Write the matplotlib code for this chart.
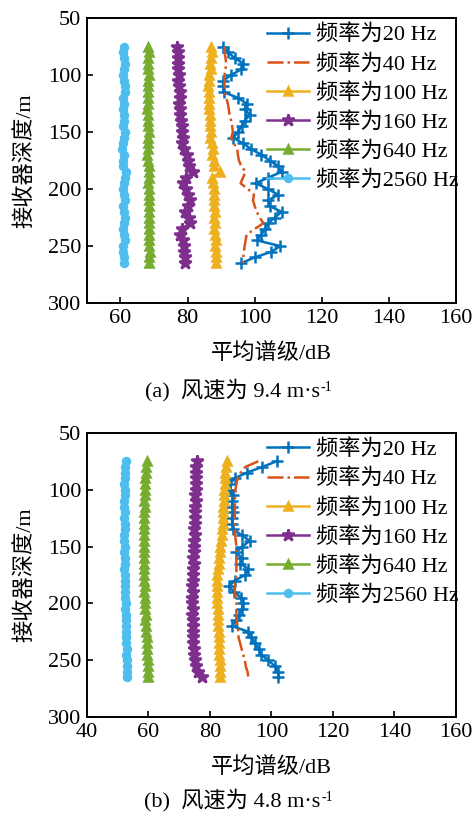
import numpy as np
import matplotlib
matplotlib.use("Agg")
import matplotlib.pyplot as plt

plt.rcParams['font.family'] = ['Liberation Serif', 'Noto Sans CJK SC', 'DejaVu Sans']
plt.rcParams['font.size'] = 16

# receiver depth (m)
depth = [75, 80, 85, 90, 95, 100, 105, 110, 115, 120,
         125, 130, 135, 140, 145, 150, 155, 160, 165, 170,
         175, 180, 185, 190, 195, 200, 205, 210, 215, 220,
         225, 230, 235, 240, 245, 250, 255, 260, 265]

labels = ['频率为20 Hz', '频率为40 Hz', '频率为100 Hz',
          '频率为160 Hz', '频率为640 Hz', '频率为2560 Hz']

# (a) wind 9.4 m/s
a20 = [90.6, 92, 94, 96.6, 96, 93, 90.6, 90.6, 90.8, 95,
       97.6, 97, 98.6, 97, 96.1, 95, 93.6, 96.5, 99, 102,
       104.5, 107, 108, 104, 100.3, 104, 107, 104, 104.5, 108,
       106, 104, 103, 102, 100.6, 107.6, 105, 100, 96]
a40 = [91, 91, 91.3, 91.5, 91.3, 91, 91, 91, 91.2, 91.5,
       92, 92.3, 92.5, 93, 93.3, 93.5, 93, 93.8, 94.8, 95,
       95.3, 96, 97.3, 96.5, 95.8, 98, 99.8, 99.5, 100, 100.6,
       101.5, 102.6, 100, 97.6, 97.3, 97, 96.8, 96.6, 96.5]
a100 = [87, 87.2, 87, 86.8, 87, 86.5, 86.3, 86, 86.3, 86.5,
        86.4, 86.5, 86.6, 86.8, 86.7, 86.9, 86.8, 87.2, 87.5, 87.3,
        87.8, 88.0, 89.7, 87.2, 87.6, 87.8, 87.9, 88.0, 87.9, 88.1,
        88.0, 88.2, 88.0, 88.3, 88.4, 88.3, 88.5, 88.6, 88.6]
a160 = [76.8, 77, 77.2, 77.2, 77, 77.3, 77.2, 77.5, 77.6, 77.8,
        77.5, 77.8, 77.8, 78, 78.2, 78.3, 78.5, 78.2, 78.8, 79.7,
        80, 80.5, 81.7, 79.5, 78.7, 79.5, 80.2, 80.7, 80, 79.2,
        80.5, 80.8, 78.2, 77.7, 78.5, 78.8, 79, 79.3, 79.2]
a640 = [68.3, 68.4, 68.3, 68.2, 68.3, 68.4, 68.3, 68.2, 68.1, 68.3,
        68.2, 68.0, 68.1, 68.3, 68.2, 68.4, 68.3, 68.2, 68.1, 68.0,
        68.2, 68.4, 68.5, 68.4, 68.3, 68.5, 68.4, 68.6, 68.5, 68.4,
        68.5, 68.4, 68.6, 68.5, 68.4, 68.6, 68.7, 68.6, 68.5]
a2560 = [61.0, 60.9, 61.1, 61.2, 61.0, 60.8, 61.1, 61.2, 61.3, 60.9,
         61.0, 60.7, 61.0, 61.1, 60.8, 61.2, 61.1, 60.9, 60.6, 61.0,
         60.8, 60.7, 61.6, 61.2, 61.0, 60.9, 61.1, 61.2, 60.8, 61.0,
         61.3, 61.1, 60.8, 61.0, 61.2, 60.9, 60.8, 61.1, 61.0]

# (b) wind 4.8 m/s
b20 = [101.7, 97, 92, 88, 86.5, 86.5, 87.4, 87.3, 87.1, 87.6,
       87.1, 87.3, 87.6, 90.3, 93, 90.5, 88.5, 90.3, 89.9, 92.5,
       91.5, 88, 86.2, 87.8, 90.2, 90.6, 90.5, 89.5, 88.5, 87.2,
       92.5, 93.4, 94.6, 95.8, 96.5, 99, 101, 102.2, 102.2]
b40 = [95.7, 91.5, 90, 89, 88.6, 88.3, 88.2, 88.1, 88.1, 88.1,
       88.1, 88.1, 88.2, 88.2, 88.4, 88.6, 88.6, 88.6, 88.6, 88.6,
       88.6, 88.3, 88.1, 88.1, 88.4, 88.6, 88.6, 88.6, 88.7, 89.0,
       89.2, 89.3, 89.8, 90.3, 90.8, 91.4, 91.6, 92.2, 92.5]
b100 = [85.4, 85.2, 85.0, 84.9, 84.8, 84.7, 84.6, 84.5, 84.4, 84.3,
        84.2, 84.1, 84.0, 83.8, 83.6, 83.4, 83.2, 83.0, 82.8, 82.6,
        82.4, 82.3, 82.2, 82.2, 82.3, 82.4, 82.5, 82.5, 82.6, 82.7,
        82.8, 82.9, 83.0, 83.0, 83.1, 83.2, 83.2, 83.3, 83.3]
b160 = [75.7, 75.6, 75.5, 75.6, 75.4, 75.5, 75.3, 75.4, 75.2, 75.3,
        75.1, 75.0, 74.9, 75.0, 74.8, 74.9, 74.7, 74.6, 74.7, 74.5,
        74.6, 74.4, 74.3, 74.4, 74.2, 74.3, 74.4, 74.3, 74.5, 74.4,
        74.5, 74.6, 74.5, 74.7, 74.8, 75.0, 75.5, 76.0, 77.3]
b640 = [59.4, 59.2, 59.1, 59.0, 58.9, 58.8, 58.9, 58.7, 58.8, 58.6,
        58.7, 58.5, 58.6, 58.5, 58.6, 58.4, 58.5, 58.6, 58.5, 58.6,
        58.7, 58.6, 58.8, 58.7, 58.9, 58.8, 59.0, 59.1, 59.0, 59.2,
        59.3, 59.4, 59.5, 59.6, 59.5, 59.7, 59.8, 59.9, 59.9]
b2560 = [52.6, 52.4, 52.5, 52.3, 52.2, 52.4, 52.3, 52.1, 52.2, 52.3,
         52.2, 52.4, 52.3, 52.2, 52.1, 52.3, 52.2, 52.4, 52.3, 52.2,
         52.3, 52.4, 52.3, 52.5, 52.4, 52.6, 52.5, 52.6, 52.7, 52.6,
         52.8, 52.7, 52.8, 52.9, 52.8, 53.0, 52.9, 53.0, 53.0]

colors = ['#0072BD', '#D95319', '#EDB120', '#7E2F8E', '#77AC30', '#4DBEEE']
styles = [('-', '+', 8), ('-.', '', 0), ('-', '^', 6), ('-', '*', 9), ('-', '^', 6), ('-', 'o', 5)]


def draw(ax, series, xmin, xticks):
    for s, c, (ls, mk, ms), lab in zip(series, colors, styles, labels):
        ax.plot(s, depth, ls=ls, marker=mk, ms=ms, color=c, lw=1.8, mew=1.8, label=lab)
    ax.set_xlim(xmin, 160)
    ax.set_ylim(300, 50)
    ax.set_xticks(xticks)
    ax.set_yticks([50, 100, 150, 200, 250, 300])
    ax.tick_params(direction='in', length=4, width=1.2, pad=4)
    for sp in ax.spines.values():
        sp.set_linewidth(1.4)
    ax.set_xlabel('平均谱级/dB', labelpad=11)
    ax.set_ylabel('接收器深度/m', labelpad=9)
    ax.legend(loc='upper left', bbox_to_anchor=(0.47, 1.0), frameon=False,
              handlelength=1.9, handletextpad=0.3, labelspacing=0.38,
              borderaxespad=0.1, borderpad=0.2)


fig = plt.figure(figsize=(4.75, 8.19), dpi=100)
ax1 = fig.add_axes([0.183, 0.630, 0.777, 0.348])
draw(ax1, [a20, a40, a100, a160, a640, a2560], 50, [60, 80, 100, 120, 140, 160])
ax2 = fig.add_axes([0.183, 0.1245, 0.777, 0.347])
draw(ax2, [b20, b40, b100, b160, b640, b2560], 40, [40, 60, 80, 100, 120, 140, 160])

# captions, with a small "-1" superscript after the unit
fig.canvas.draw()
for y, txt in [(0.524, '(a)  风速为 9.4 m·s'), (0.023, '(b)  风速为 4.8 m·s')]:
    t = fig.text(0.5 - 5 / 475, y, txt, ha='center', va='center')
    bb = t.get_window_extent(fig.canvas.get_renderer())
    fig.text(bb.x1 / fig.bbox.width + 0.002, bb.y1 / fig.bbox.height - 0.003, '-1',
             fontsize=10, ha='left', va='top')

fig.savefig('out.png', dpi=100)
